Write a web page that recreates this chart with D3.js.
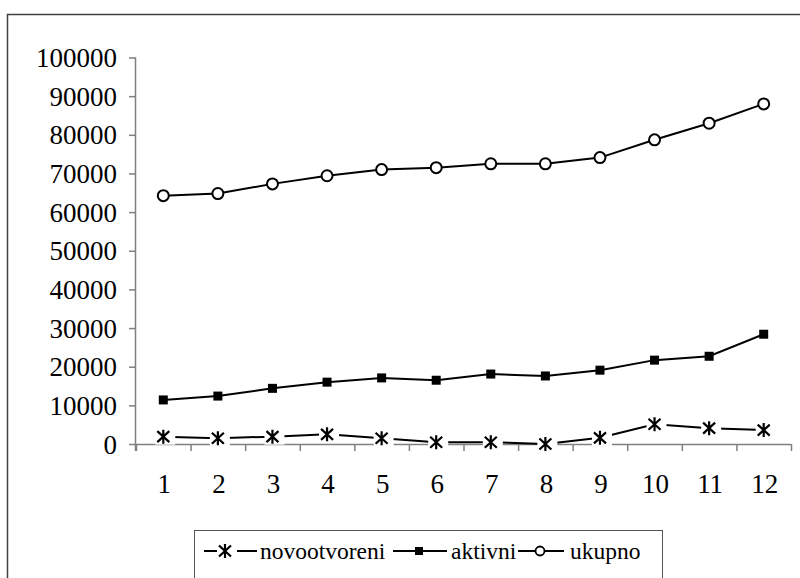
<!DOCTYPE html>
<html><head><meta charset="utf-8">
<script src="https://cdn.jsdelivr.net/npm/d3@7"></script>
<style>html,body{margin:0;padding:0;background:#fff;overflow:hidden}
text{font-family:"Liberation Serif","DejaVu Serif","Times New Roman",Times,serif;}</style>
</head><body>
<svg id="c" width="800" height="578"></svg>
<script>
const categories = ["1","2","3","4","5","6","7","8","9","10","11","12"];
const novootvoreni = [1900,1500,1900,2500,1500,450,450,0,1600,5100,4100,3600];
const aktivni = [11400,12400,14400,16000,17100,16500,18100,17600,19100,21700,22700,28400];
const ukupno = [64250,64800,67300,69400,71000,71500,72500,72500,74100,78700,83000,88000];
const yTicks = [0,10000,20000,30000,40000,50000,60000,70000,80000,90000,100000];
const seriesNames = ["novootvoreni","aktivni","ukupno"];

const svg = d3.select("#c");
const FONT = "Liberation Serif, DejaVu Serif, Times New Roman, serif";

// outer frame
svg.append("rect").attr("x",7.5).attr("y",14.5).attr("width",900).attr("height",700)
  .attr("fill","none").attr("stroke","#404040").attr("stroke-width",1.5);

const x = d3.scaleLinear().domain([0,12]).range([136,791]);
const y = d3.scaleLinear().domain([0,100000]).range([444,57.5]);
const cx = i => x(i+0.5);

// y axis
const ya = svg.append("g").attr("transform","translate(136,0)")
  .call(d3.axisLeft(y).tickValues(yTicks).tickSize(7).tickPadding(12).tickFormat(d=>String(d)));
ya.attr("font-family",null).attr("font-size",null);
ya.select(".domain").attr("stroke","#808080").attr("stroke-width",1.5).attr("d","M-0.5,57.5V451");
ya.selectAll(".tick line").attr("stroke","#808080").attr("stroke-width",1.5);
ya.selectAll(".tick text").style("font-family",FONT).style("font-size","27px").attr("fill","#000").attr("dy","0.34em");

// x axis
const xa = svg.append("g").attr("transform","translate(0,444)")
  .call(d3.axisBottom(x).tickValues(d3.range(0,13)).tickSize(7).tickFormat(""));
xa.select(".domain").attr("stroke","#808080").attr("stroke-width",1.5).attr("d","M136,0.5H791");
xa.selectAll(".tick line").attr("stroke","#808080").attr("stroke-width",1.5);
svg.append("g").selectAll("text").data(categories).join("text")
  .attr("x",(d,i)=>cx(i)+1).attr("y",493).attr("text-anchor","middle")
  .style("font-family",FONT).style("font-size","27px").attr("fill","#000").text(d=>d);

const line = d3.line().x((d,i)=>cx(i)).y(d=>y(d));
[novootvoreni,aktivni,ukupno].forEach(s=>{
  svg.append("path").datum(s).attr("d",line).attr("fill","none").attr("stroke","#000").attr("stroke-width",2);
});

function star(g,px,py){
  g.append("rect").attr("x",px-8).attr("y",py-8).attr("width",20).attr("height",16).attr("fill","#fff");
  g.append("path").attr("d",`M${px-6},${py-5.5}L${px+6},${py+5.5}M${px+6},${py-5.5}L${px-6},${py+5.5}M${px},${py-7}V${py+7}`)
   .attr("stroke","#000").attr("stroke-width",2.2).attr("fill","none");
}
const gs = svg.append("g");
novootvoreni.forEach((v,i)=>star(gs,cx(i),y(v)));
svg.append("g").selectAll("rect").data(aktivni).join("rect")
  .attr("x",(d,i)=>cx(i)-4.5).attr("y",d=>y(d)-4.5).attr("width",9).attr("height",9).attr("fill","#000");
svg.append("g").selectAll("circle").data(ukupno).join("circle")
  .attr("cx",(d,i)=>cx(i)).attr("cy",d=>y(d)).attr("r",5.5)
  .attr("fill","#fff").attr("stroke","#000").attr("stroke-width",2);

// legend
const lg = svg.append("g");
lg.append("rect").attr("x",194.5).attr("y",530.5).attr("width",468).attr("height",100)
  .attr("fill","#fff").attr("stroke","#555").attr("stroke-width",1);
const ly = 551, tb = 559;
const items = [
  {x0:204,x1:257,m:225,tx:260},
  {x0:393,x1:447,m:419,tx:451},
  {x0:518,x1:564,m:540,tx:570}
];
items.forEach((it,k)=>{
  lg.append("line").attr("x1",it.x0).attr("x2",it.x1).attr("y1",ly).attr("y2",ly).attr("stroke","#000").attr("stroke-width",2);
  if(k===0) star(lg,it.m,ly);
  if(k===1) lg.append("rect").attr("x",it.m-4).attr("y",ly-4).attr("width",8).attr("height",8).attr("fill","#000");
  if(k===2) lg.append("circle").attr("cx",it.m).attr("cy",ly).attr("r",4.5).attr("fill","#fff").attr("stroke","#000").attr("stroke-width",1.8);
  lg.append("text").attr("x",it.tx).attr("y",tb).style("font-family",FONT).style("font-size","23.5px").attr("fill","#000").text(seriesNames[k]);
});
</script>
</body></html>
